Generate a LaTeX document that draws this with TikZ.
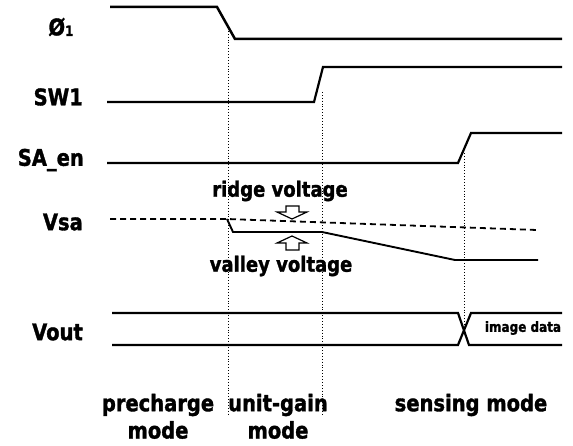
\documentclass[tikz,border=0pt]{standalone}
\usepackage{fontspec}
\setmainfont{DejaVu Sans}[BoldFeatures={FakeBold=1.6}]
\newcommand{\tallt}[1]{\scalebox{1}[1.17]{#1}}
\begin{document}
\begin{tikzpicture}[x=1pt,y=-1pt,
  sig/.style={line width=2.2pt,line join=miter},
  dashsig/.style={line width=1.8pt,dash pattern=on 6pt off 4pt},
  guide/.style={line width=0.9pt,dotted},
  lbl/.style={font=\fontsize{19.5}{19.5}\selectfont\bfseries,inner sep=0pt},
  midlbl/.style={font=\fontsize{18}{18}\selectfont\bfseries,inner sep=0pt},
  smalllbl/.style={font=\fontsize{12}{12}\selectfont\bfseries,inner sep=0pt},
  blockarrow/.style={draw,line width=1.2pt,fill=white,line join=miter}]
\useasboundingbox (0,0) rectangle (573,446);
% guides
\draw[guide] (228,28) -- (228,416);
\draw[guide] (322,92) -- (322,414);
\draw[guide] (464,153) -- (464,326);
% Phi1
\draw[sig,line width=2.5pt] (110,7) -- (217,7) -- (235,39) -- (562,39);
% SW1
\draw[sig] (107,102) -- (314,102) -- (323,67) -- (562,67);
% SA_en
\draw[sig] (107,163) -- (458,163) -- (471,133) -- (562,133);
% Vsa
\draw[dashsig] (110,219) -- (227,219) -- (537,230);
\draw[sig,line width=1.9pt] (227,219) -- (233,232) -- (322,232) -- (455,260) -- (538,260);
% Vout
\draw[sig] (112,313) -- (458,313) -- (469,345) -- (562,345);
\draw[sig] (112,345) -- (458,345) -- (471,313) -- (562,313);
% labels
\node[lbl] (phi) at (61,27) {\tallt{Ø\raisebox{-0.5pt}{\fontsize{12}{12}\selectfont 1}}};
\node[lbl,anchor=east] (sw) at (83,97) {\tallt{SW1}};
\node[lbl,anchor=east] (sa) at (84,160) {\tallt{SA\_en}};
\node[lbl,anchor=east] (vsa) at (83,222) {\tallt{Vsa}};
\node[lbl,anchor=east] (vout) at (83,332) {\tallt{Vout}};
\node[midlbl] (ridge) at (280,191) {\tallt{ridge voltage}};
\node[midlbl] (valley) at (281,266) {\tallt{valley voltage}};
\node[smalllbl] (img) at (523,328) {\tallt{image data}};
\node[lbl] (pre) at (158,405) {\tallt{precharge}};
\node[lbl] (prem) at (158,430) {\tallt{mode}};
\node[lbl] (ug) at (278,405) {\tallt{unit-gain}};
\node[lbl] (ugm) at (278,430) {\tallt{mode}};
\node[lbl] (sens) at (471,405) {\tallt{sensing mode}};
% block arrows
\draw[blockarrow] (286,206) -- (299,206) -- (299,212) -- (307,212) -- (292,219) -- (277,212) -- (286,212) -- cycle;
\draw[blockarrow] (286,250) -- (299,250) -- (299,243) -- (307,243) -- (292,236) -- (277,243) -- (286,243) -- cycle;
\end{tikzpicture}
\end{document}
